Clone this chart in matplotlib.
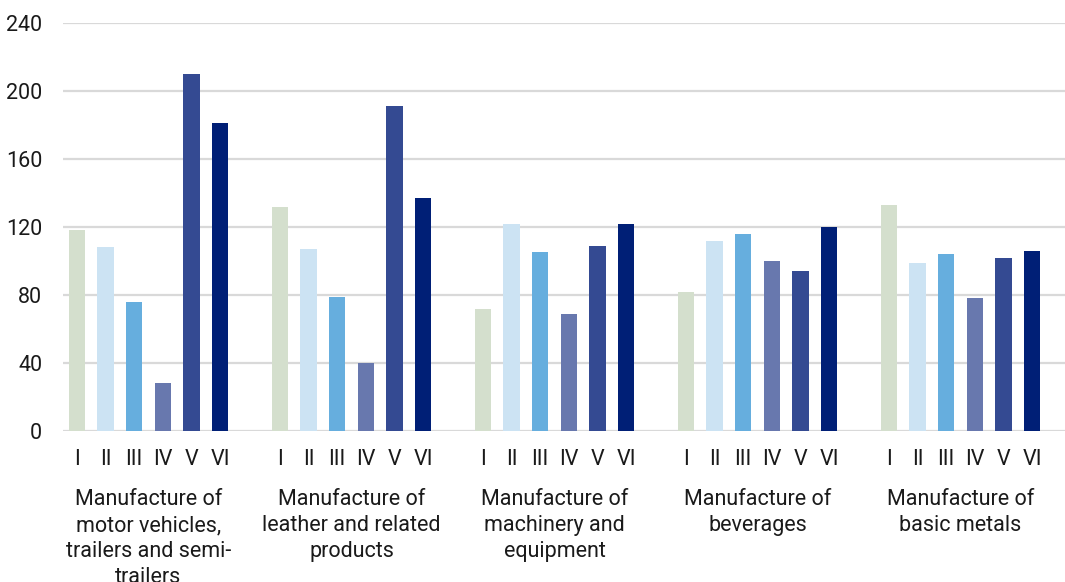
import matplotlib.pyplot as plt
import numpy as np

plt.rcParams["font.family"] = ["Roboto", "DejaVu Sans"]

groups = [
    "Manufacture of\nmotor vehicles,\ntrailers and semi-\ntrailers",
    "Manufacture of\nleather and related\nproducts",
    "Manufacture of\nmachinery and\nequipment",
    "Manufacture of\nbeverages",
    "Manufacture of\nbasic metals",
]
series = ["I", "II", "III", "IV", "V", "VI"]
values_I = [118, 132, 72, 82, 133]
values_II = [108, 107, 122, 112, 99]
values_III = [76, 79, 105, 116, 104]
values_IV = [28, 40, 69, 100, 78]
values_V = [210, 191, 109, 94, 102]
values_VI = [181, 137, 122, 120, 106]
colors = ["#D4DFCD", "#CCE3F3", "#66AEDE", "#6878AE", "#344A92", "#001F76"]

data = [values_I, values_II, values_III, values_IV, values_V, values_VI]

fig = plt.figure(figsize=(10.65, 5.82), dpi=100)
ax = fig.add_axes([0.0592, 0.2595, 0.9408, 0.701])

step = 0.141
width = 0.081
x = np.arange(len(groups))
tick_pos, tick_lab = [], []
for i, (vals, col) in enumerate(zip(data, colors)):
    pos = x + (i - 2.5) * step
    ax.bar(pos, vals, width=width, color=col, zorder=3)
    tick_pos.extend(pos)
    tick_lab.extend([series[i]] * len(groups))

ax.set_xticks(tick_pos)
ax.set_xticklabels(tick_lab, fontsize=15.5, color="#1a1a1a")
ax.tick_params(axis="x", length=0, pad=13)
ax.set_xlim(-0.421, 4.515)

ax.set_ylim(0, 240)
ax.set_yticks(range(0, 241, 40))
ax.tick_params(axis="y", length=0, pad=15, labelsize=15.5, labelcolor="#1a1a1a")
ax.yaxis.grid(True, color="#D9D9D9", linewidth=1.6, zorder=0)
for s in ax.spines.values():
    s.set_visible(False)

# multi-line group captions under the I..VI labels (last line runs off the figure, as in the source)
for g, label in zip(x, groups):
    ax.annotate(label, xy=(g, 0), xycoords=("data", "axes fraction"),
                xytext=(0, -42), textcoords="offset points",
                ha="center", va="top", fontsize=15.5, color="#1a1a1a",
                linespacing=1.31, annotation_clip=False)

fig.savefig("out.png", dpi=100)
